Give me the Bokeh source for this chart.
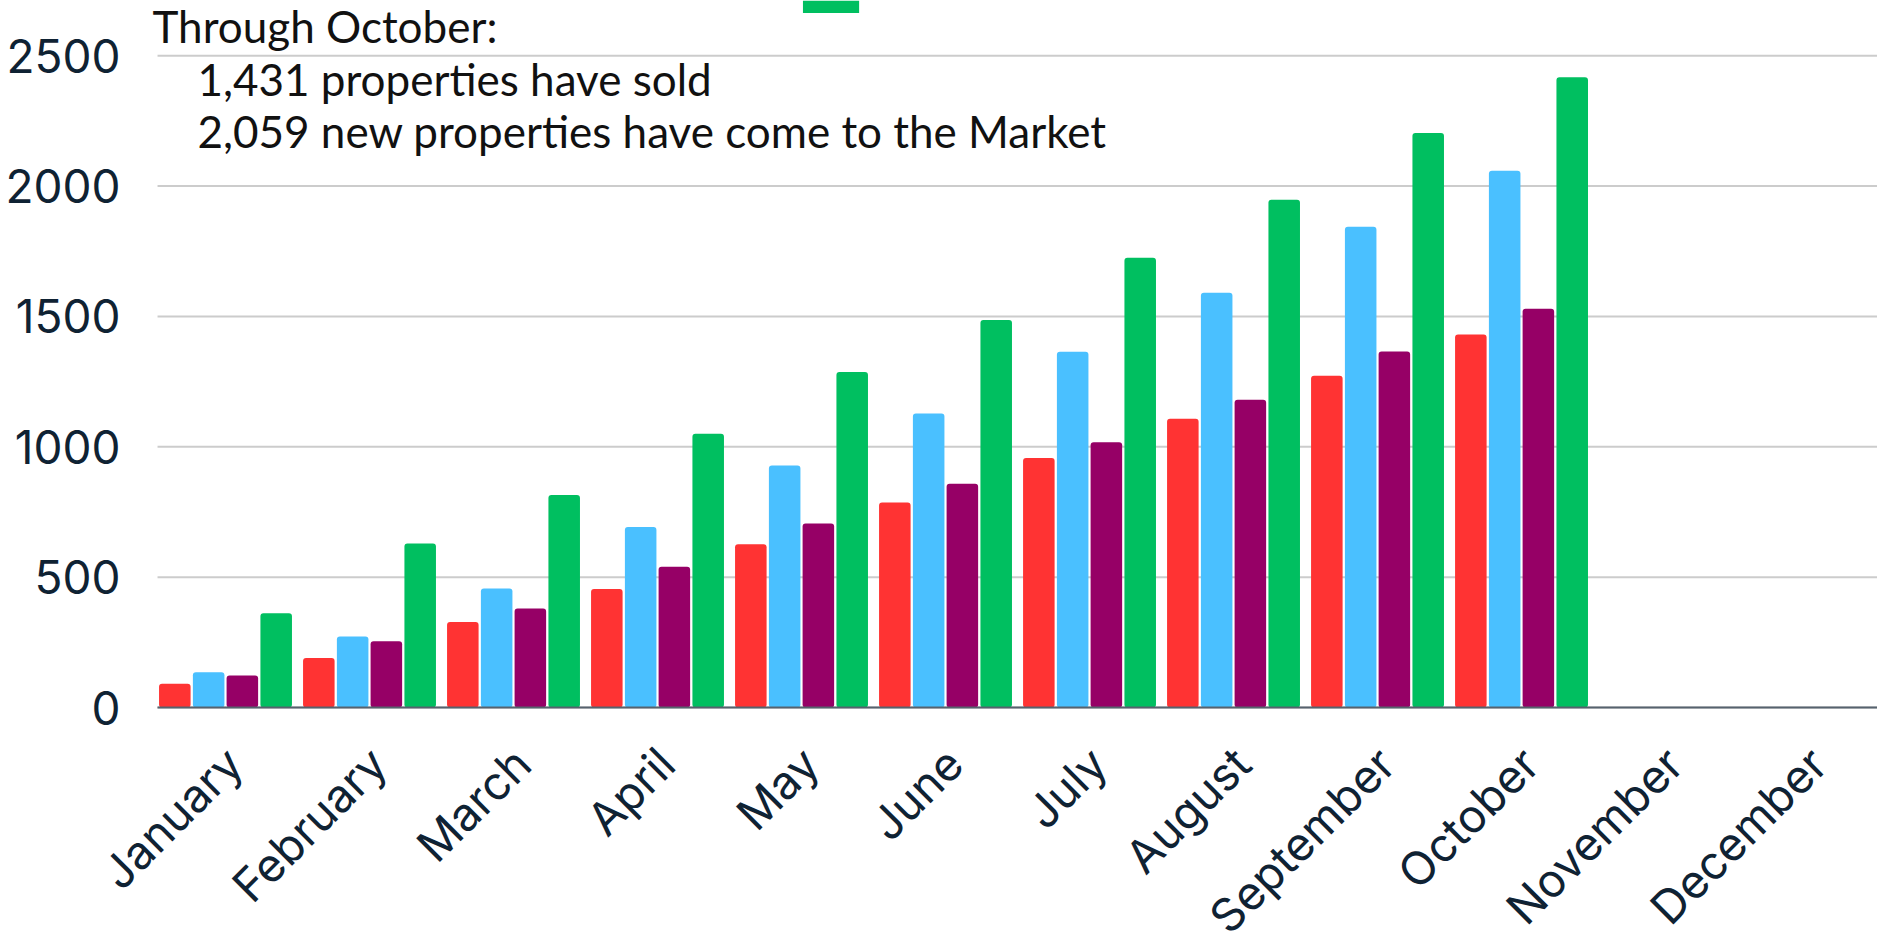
import numpy as np
from bokeh.plotting import figure
from bokeh.models import (Range1d, FixedTicker, Label, BoxAnnotation)
from bokeh.embed import file_html
from bokeh.resources import INLINE

# ---- data ----
months = ["January", "February", "March", "April", "May", "June",
          "July", "August", "September", "October", "November", "December"]
sold_this_year = [91, 190, 328, 455, 626, 786, 957, 1108, 1273, 1431]
new_this_year = [135, 272, 457, 692, 928, 1128, 1365, 1591, 1844, 2059]
sold_last_year = [123, 254, 380, 540, 706, 858, 1018, 1181, 1366, 1530]
new_last_year = [362, 629, 815, 1050, 1287, 1486, 1725, 1948, 2204, 2418]
y_ticks = [0, 500, 1000, 1500, 2000, 2500]
note_title = "Through October:"
note_lines = ["1,431 properties have sold",
              "2,059 new properties have come to the Market"]

series = [sold_this_year, new_this_year, sold_last_year, new_last_year]
colors = ["#FF3333", "#4AC0FF", "#960066", "#00BF60"]
offsets = [-0.352, -0.117, 0.117, 0.352]
bar_width = 0.219
label_shift = 0.06    # month names sit slightly right of the group centre

X_LEFT, X_RIGHT = -0.472, 11.472     # extent of the plotting area proper
Y_TOP = 2712
Y_BOTTOM = -932   # room below zero for the slanted month names
p = figure(width=1877, height=950,
           x_range=Range1d(-1.5625, X_RIGHT), y_range=Range1d(Y_BOTTOM, Y_TOP),
           output_backend="svg", toolbar_location=None,
           min_border_left=0, min_border_right=0,
           min_border_top=0, min_border_bottom=0)

label_color = "#0f2233"
tick_font = "Inter"

# horizontal grid lines at the y ticks
p.xgrid.grid_line_color = None
p.ygrid.grid_line_color = None
p.segment(x0=X_LEFT, x1=X_RIGHT, y0=y_ticks, y1=y_ticks,
          line_color="#cccccc", line_width=2, level="underlay")

for vals, col, off in zip(series, colors, offsets):
    xs = np.arange(len(vals)) + off
    p.vbar(x=xs, top=vals, bottom=0, width=bar_width, fill_color=col,
           line_color=None, border_radius=3)

# x axis drawn at zero, month names slanted
tick_pos = [round(i + label_shift, 3) for i in range(len(months))]
p.xaxis.fixed_location = 0
p.xaxis.bounds = (X_LEFT, X_RIGHT)
p.xaxis.ticker = FixedTicker(ticks=tick_pos)
p.xaxis.major_label_overrides = {t: m for t, m in zip(tick_pos, months)}
p.xaxis.major_label_orientation = np.pi / 4
p.xaxis.major_label_text_font = tick_font
p.xaxis.major_label_text_font_size = "46px"
p.xaxis.major_label_text_color = label_color
p.xaxis.major_label_standoff = 48
p.xaxis.major_tick_out = 0
p.xaxis.major_tick_in = 0
p.xaxis.major_tick_line_color = None
p.xaxis.minor_tick_line_color = None
p.xaxis.axis_line_color = "#56626e"
p.xaxis.axis_line_width = 2

# y axis at the left edge of the plotting area
p.yaxis.fixed_location = X_LEFT
p.yaxis.ticker = FixedTicker(ticks=y_ticks)
p.yaxis.major_label_text_font = tick_font
p.yaxis.major_label_text_font_size = "46px"
p.yaxis.major_label_text_color = label_color
p.yaxis.major_label_standoff = 37
p.yaxis.major_tick_out = 0
p.yaxis.major_tick_in = 0
p.yaxis.major_tick_line_color = None
p.yaxis.minor_tick_line_color = None
p.yaxis.axis_line_color = None

p.outline_line_color = None
p.background_fill_color = "white"
p.border_fill_color = "white"

# green legend swatch, cropped at the top edge in the reference
p.add_layout(BoxAnnotation(left=4.01, right=4.40, bottom=2664, top=Y_TOP,
                           fill_color=colors[3], fill_alpha=1.0,
                           line_alpha=0.0))

note_font = "Lato"
p.add_layout(Label(x=152, y=925, x_units="screen", y_units="screen",
                   text=note_title, text_font=note_font, text_font_size="44px",
                   text_baseline="alphabetic", text_color="#111111"))
for txt, yy in zip(note_lines, [872, 820]):
    p.add_layout(Label(x=197, y=yy, x_units="screen", y_units="screen",
                       text=txt, text_font=note_font, text_font_size="44px",
                       text_baseline="alphabetic", text_color="#111111"))

open("out.html", "w").write(file_html(p, INLINE))
